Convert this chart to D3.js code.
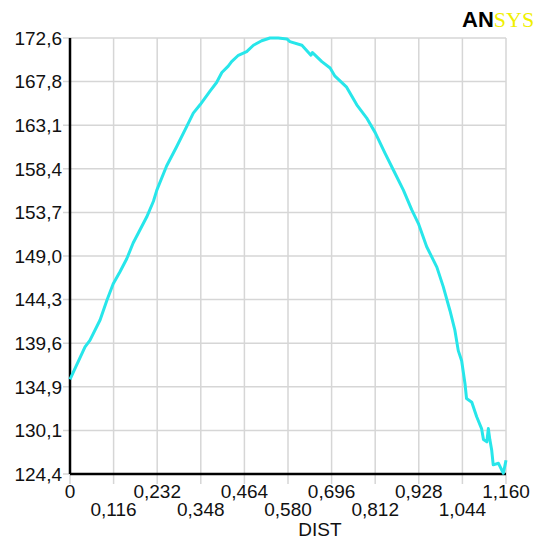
<!DOCTYPE html>
<html>
<head>
<meta charset="utf-8">
<script src="https://cdn.jsdelivr.net/npm/d3@7"></script>
<style>
    body { margin: 0; background: #fff; }
    text { font-family: "Liberation Sans", Arial, sans-serif; }
</style>
</head>
<body>
<script>
const distValues = [0, 0.040, 0.053, 0.080, 0.098, 0.115, 0.133, 0.151, 0.168, 0.186, 0.204, 0.222, 0.231,
    0.257, 0.284, 0.311, 0.328, 0.346, 0.373, 0.390, 0.404, 0.421, 0.430, 0.448, 0.470, 0.488, 0.510,
    0.532, 0.554, 0.577, 0.585, 0.617, 0.641, 0.645, 0.650, 0.670, 0.692, 0.705, 0.736, 0.763, 0.789,
    0.812, 0.838, 0.860, 0.887, 0.909, 0.927, 0.949, 0.976, 0.993, 1.011, 1.024, 1.033, 1.042, 1.051,
    1.055, 1.069, 1.082, 1.095, 1.100, 1.109, 1.113, 1.117, 1.122, 1.126, 1.140, 1.153, 1.160]
const tempValues = [135.7, 139.2, 139.9, 142.1, 144.2, 146.0, 147.3, 148.7, 150.4, 151.8, 153.2, 154.9, 156.1,
    158.7, 160.8, 163.0, 164.4, 165.3, 166.8, 167.7, 168.8, 169.5, 170.0, 170.7, 171.1, 171.8, 172.3,
    172.6, 172.6, 172.5, 172.2, 171.8, 170.7, 171.0, 170.8, 170.0, 169.3, 168.4, 167.2, 165.3, 163.9,
    162.3, 160.1, 158.3, 156.1, 154.0, 152.5, 150.0, 147.8, 145.7, 143.1, 141.0, 138.8, 137.7, 135.2,
    133.6, 133.2, 131.6, 130.3, 128.9, 128.6, 130.3, 128.9, 127.5, 125.6, 125.8, 124.5, 126.2]

const xTicks = [0, 0.116, 0.232, 0.348, 0.464, 0.580, 0.696, 0.812, 0.928, 1.044, 1.160]
const xTickLabels = ["0", "0,116", "0,232", "0,348", "0,464", "0,580", "0,696", "0,812", "0,928", "1,044", "1,160"]
const yTicks = [124.4, 130.1, 134.9, 139.6, 144.3, 149.0, 153.7, 158.4, 163.1, 167.8, 172.6]
const yTickLabels = ["124,4", "130,1", "134,9", "139,6", "144,3", "149,0", "153,7", "158,4", "163,1", "167,8", "172,6"]

const svgWidth = 545
const svgHeight = 540

const margin = {
    top: 38,
    right: 39,
    bottom: 66,
    left: 70
    }

const chartWidth = svgWidth - margin.left - margin.right
const chartHeight = svgHeight - margin.top - margin.bottom

const svg = d3.select("body").append("svg")
    .attr("width", svgWidth)
    .attr("height", svgHeight)

// logo
const logo = svg.append("text")
    .attr("x", 462)
    .attr("y", 27)
    .attr("font-size", 22)
logo.append("tspan")
    .attr("font-weight", 900)
    .attr("fill", "#000")
    .text("AN")
logo.append("tspan")
    .attr("font-family", "'Liberation Serif', serif")
    .attr("fill", "#f0f000")
    .text("SYS")

const chartG = svg.append("g")
    .attr("transform", `translate(${margin.left}, ${margin.top})`)

const x = d3.scaleLinear()
    .domain([0, 1.16])
    .range([0, chartWidth])

// ticks on the value axis are equally spaced even though the steps differ
const y = d3.scaleLinear()
    .domain(yTicks)
    .range(yTicks.map((d, i) => chartHeight - i * chartHeight / (yTicks.length - 1)))

// grid
chartG.append("g")
    .selectAll("line")
    .data(xTicks)
    .join("line")
    .attr("x1", d => x(d))
    .attr("x2", d => x(d))
    .attr("y1", 0)
    .attr("y2", chartHeight + 10)
    .attr("stroke", "#d6d6d6")
    .attr("stroke-width", 1.5)

chartG.append("g")
    .selectAll("line")
    .data(yTicks)
    .join("line")
    .attr("x1", -7)
    .attr("x2", chartWidth)
    .attr("y1", d => y(d))
    .attr("y2", d => y(d))
    .attr("stroke", "#d6d6d6")
    .attr("stroke-width", 1.5)

// tick labels
chartG.append("g")
    .selectAll("text")
    .data(yTicks)
    .join("text")
    .attr("x", -8)
    .attr("y", d => y(d))
    .attr("dy", "0.36em")
    .attr("text-anchor", "end")
    .attr("font-size", 19)
    .attr("fill", "#111")
    .text((d, i) => yTickLabels[i])

chartG.append("g")
    .selectAll("text")
    .data(xTicks)
    .join("text")
    .attr("x", d => x(d))
    .attr("y", (d, i) => chartHeight + (i % 2 === 0 ? 24 : 42))
    .attr("text-anchor", "middle")
    .attr("font-size", 19)
    .attr("fill", "#111")
    .text((d, i) => xTickLabels[i])

chartG.append("text")
    .attr("x", 250)
    .attr("y", chartHeight + 62)
    .attr("text-anchor", "middle")
    .attr("font-size", 19)
    .attr("fill", "#111")
    .text("DIST")

// axes lines
chartG.append("line")
    .attr("x1", 0)
    .attr("x2", 0)
    .attr("y1", 0)
    .attr("y2", chartHeight)
    .attr("stroke", "#000")
    .attr("stroke-width", 2.5)

chartG.append("line")
    .attr("x1", 0)
    .attr("x2", chartWidth)
    .attr("y1", chartHeight)
    .attr("y2", chartHeight)
    .attr("stroke", "#000")
    .attr("stroke-width", 2.5)

const data = distValues.map((d, i) => ({dist: d, temp: tempValues[i]}))

const line = d3.line()
    .x(d => x(d.dist))
    .y(d => y(d.temp))

chartG.append("path")
    .attr("d", line(data))
    .attr("fill", "none")
    .attr("stroke", "#27e6ea")
    .attr("stroke-width", 3)
    .attr("stroke-linejoin", "round")
</script>
</body>
</html>
